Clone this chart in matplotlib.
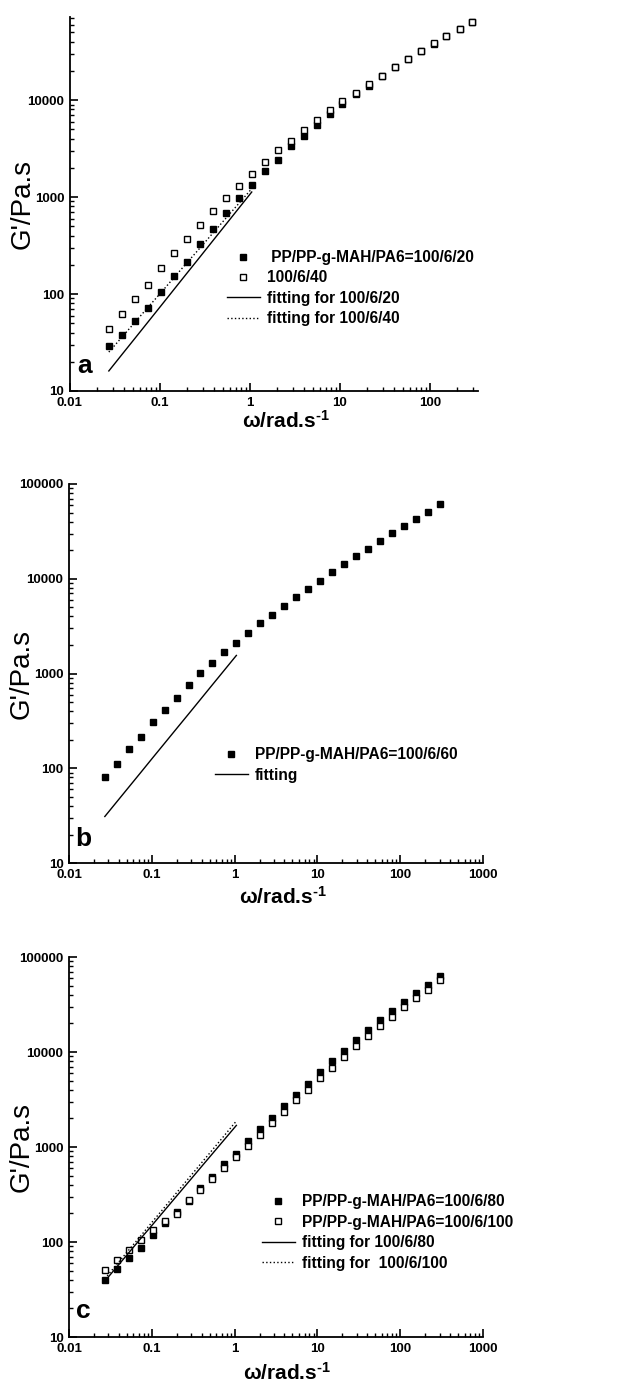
import matplotlib
matplotlib.use('Agg')
import matplotlib.pyplot as plt
from matplotlib.ticker import LogLocator, FuncFormatter, NullFormatter

plt.rcParams['font.family'] = ['Liberation Sans', 'DejaVu Sans']
plt.rcParams['font.weight'] = 'bold'
plt.rcParams['mathtext.fontset'] = 'custom'
plt.rcParams['mathtext.rm'] = 'Liberation Sans:bold'
plt.rcParams['mathtext.bf'] = 'Liberation Sans:bold'
plt.rcParams['mathtext.default'] = 'bf'

# angular frequency (rad/s)
omega = [0.0271, 0.0378, 0.0527, 0.0735, 0.1025, 0.143, 0.199, 0.278, 0.387, 0.540,
         0.753, 1.05, 1.46, 2.04, 2.84, 3.96, 5.52, 7.70, 10.7, 15.0,
         20.9, 29.1, 40.6, 56.6, 78.9, 110, 153, 214, 298]
omega_fit = omega[:12]

# panel a
g_20 = [29.1, 38.1, 52.7, 72.3, 104, 155, 215, 325, 468, 679,
        968, 1340, 1840, 2425, 3330, 4290, 5570, 7230, 9020, 11620,
        14060, 17670, 21900, 26500, 32000, 38100, 46000, 53900, 63200]
g_40 = [43.2, 62.2, 89.5, 125, 185, 265, 369, 514, 723, 984,
        1309, 1740, 2313, 3030, 3810, 4940, 6270, 7890, 9690, 11720,
        14730, 17820, 21900, 26700, 32000, 38700, 46000, 54300, 64300]
fit_20 = [16.1, 23.7, 34.8, 51.2, 75.3, 111, 163, 240, 353, 520, 766, 1127]
fit_40 = [25.2, 35.8, 51.0, 72.6, 103, 147, 209, 297, 423, 603, 857, 1219]

# panel b
g_60 = [80.8, 112, 160, 215, 305, 415, 556, 750, 1011, 1290,
        1685, 2114, 2673, 3410, 4140, 5110, 6360, 7850, 9530, 11770,
        14190, 17220, 20750, 25000, 30300, 35700, 43000, 50600, 60900]
fit_60 = [31.0, 44.3, 63.2, 90.2, 129, 184, 262, 374, 533, 762, 1087, 1552]

# panel c
g_80 = [40.1, 52.4, 68.4, 87.2, 117.5, 158, 207, 270, 373, 487,
        657, 851, 1148, 1535, 2019, 2700, 3557, 4642, 6210, 7980,
        10330, 13270, 16910, 21530, 27000, 33900, 41800, 51200, 62500]
g_100 = [51.1, 65.2, 81.7, 104, 133, 165, 199, 275, 356, 457,
         596, 778, 1016, 1337, 1790, 2353, 3098, 4016, 5283, 6843,
         8853, 11670, 14730, 18620, 23340, 29770, 36740, 45300, 56800]
fit_80 = [38.8, 54.7, 77.1, 109, 153, 216, 304, 429, 604, 851, 1199, 1690]
fit_100 = [41.1, 58.2, 82.4, 116, 165, 233, 330, 468, 661, 935, 1324, 1879]


def fmt(v, pos):
    if v >= 1:
        return '%d' % round(v)
    return '%g' % v


def style(ax, xlim, ylim):
    ax.set_xscale('log')
    ax.set_yscale('log')
    ax.set_xlim(*xlim)
    ax.set_ylim(*ylim)
    for s in ['top', 'right']:
        ax.spines[s].set_visible(False)
    for s in ['left', 'bottom']:
        ax.spines[s].set_linewidth(1.3)
    for axis in (ax.xaxis, ax.yaxis):
        axis.set_major_locator(LogLocator(base=10, numticks=10))
        axis.set_minor_locator(LogLocator(base=10, subs=range(2, 10), numticks=10))
        axis.set_major_formatter(FuncFormatter(fmt))
        axis.set_minor_formatter(NullFormatter())
    ax.tick_params(which='major', direction='in', length=6, width=1.2, labelsize=9.5, pad=4)
    ax.tick_params(which='minor', direction='in', length=3, width=1.0)
    ax.set_ylabel("G'/Pa.s", fontsize=20, fontweight='normal')
    ax.set_xlabel('ω/rad.s$^{\\text{-}1}$', fontsize=15, fontweight='bold')


fig = plt.figure(figsize=(6.41, 13.88), dpi=100)

leg_kw = dict(frameon=False, fontsize=11.2, borderpad=0, borderaxespad=0,
              handlelength=2.1, handletextpad=0.45, labelspacing=0.35, numpoints=1)
ms = 4.6

# ---- panel a
ax = fig.add_axes([0.109, 0.7183, 0.637, 0.2695])
style(ax, (0.01, 345), (10, 72000))
ax.plot(omega, g_20, 's', color='black', ms=ms, label=' PP/PP-g-MAH/PA6=100/6/20')
ax.plot(omega, g_40, 's', mfc='white', mec='black', mew=1.0, ms=ms, label='100/6/40')
ax.plot(omega_fit, fit_20, '-', color='black', lw=1.0, label='fitting for 100/6/20')
ax.plot(omega_fit, fit_40, ':', color='black', lw=1.0, label='fitting for 100/6/40')
ax.legend(loc='upper left', bbox_to_anchor=(0.385, 0.377), **leg_kw)
ax.text(0.037, 0.067, 'a', transform=ax.transAxes, fontsize=19, fontweight='bold',
        ha='center', va='center')
ax.yaxis.set_label_coords(-0.083, 0.5)
ax.xaxis.set_label_coords(0.53, -0.05)

# ---- panel b
ax = fig.add_axes([0.1076, 0.3782, 0.646, 0.2731])
style(ax, (0.01, 1000), (10, 100000))
ax.plot(omega, g_60, 's', color='black', ms=ms, label='PP/PP-g-MAH/PA6=100/6/60')
ax.plot(omega_fit, fit_60, '-', color='black', lw=1.0, label='fitting')
ax.legend(loc='upper left', bbox_to_anchor=(0.353, 0.306), **leg_kw)
ax.text(0.034, 0.063, 'b', transform=ax.transAxes, fontsize=19, fontweight='bold',
        ha='center', va='center')
ax.yaxis.set_label_coords(-0.082, 0.5)
ax.xaxis.set_label_coords(0.517, -0.061)

# ---- panel c
ax = fig.add_axes([0.1076, 0.0367, 0.646, 0.2738])
style(ax, (0.01, 1000), (10, 100000))
ax.plot(omega, g_80, 's', color='black', ms=ms, label='PP/PP-g-MAH/PA6=100/6/80')
ax.plot(omega, g_100, 's', mfc='white', mec='black', mew=1.0, ms=ms,
        label='PP/PP-g-MAH/PA6=100/6/100')
ax.plot(omega_fit, fit_80, '-', color='black', lw=1.0, label='fitting for 100/6/80')
ax.plot(omega_fit, fit_100, ':', color='black', lw=1.0, label='fitting for  100/6/100')
ax.legend(loc='upper left', bbox_to_anchor=(0.466, 0.376), **leg_kw)
ax.text(0.034, 0.068, 'c', transform=ax.transAxes, fontsize=19, fontweight='bold',
        ha='center', va='center')
ax.yaxis.set_label_coords(-0.082, 0.5)
ax.xaxis.set_label_coords(0.527, -0.066)

fig.savefig('out.png', dpi=100)
